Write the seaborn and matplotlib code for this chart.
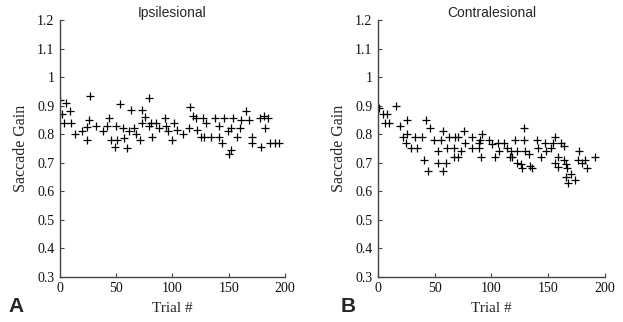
import numpy as np
import pandas as pd
import matplotlib
matplotlib.use("Agg")
import matplotlib.pyplot as plt
import seaborn as sns

# ipsilesional (panel A)
trial_ipsi = [0, 5, 2, 9, 4, 10, 13, 20, 24, 24, 27, 26, 32, 38, 42, 44, 45, 49, 50, 51,
              53, 56, 57, 60, 61, 63, 66, 68, 71, 73, 73, 76, 79, 79, 81, 82, 85, 88, 93, 94,
              96, 100, 101, 104, 109, 116, 115, 118, 122, 121, 125, 128, 127, 130, 134, 138,
              141, 141, 144, 146, 149, 150, 152, 152, 154, 157, 160, 161, 165, 168, 171, 171,
              179, 178, 181, 185, 182, 187, 191, 195]
gain_ipsi = [0.92, 0.91, 0.87, 0.88, 0.84, 0.84, 0.80, 0.81, 0.78, 0.825, 0.935, 0.85, 0.83,
             0.81, 0.83, 0.855, 0.78, 0.755, 0.83, 0.78, 0.905, 0.82, 0.785, 0.75, 0.81, 0.885,
             0.82, 0.80, 0.78, 0.885, 0.84, 0.86, 0.925, 0.83, 0.84, 0.79, 0.84, 0.82, 0.855,
             0.83, 0.81, 0.78, 0.84, 0.815, 0.80, 0.895, 0.82, 0.865, 0.815, 0.855, 0.79, 0.79,
             0.855, 0.84, 0.79, 0.855, 0.79, 0.83, 0.77, 0.855, 0.81, 0.73, 0.745, 0.82, 0.855,
             0.79, 0.82, 0.85, 0.88, 0.85, 0.79, 0.77, 0.755, 0.855, 0.865, 0.855, 0.82, 0.77,
             0.77, 0.77]

# contralesional (panel B)
trial_contra = [1, 4, 8, 6, 10, 16, 19, 26, 26, 22, 25, 29, 34, 33, 39, 41, 42, 44, 46, 49,
                53, 53, 56, 57, 57, 60, 61, 63, 67, 68, 67, 71, 71, 73, 76, 77, 83, 83, 89, 89,
                91, 92, 90, 98, 101, 103, 106, 107, 111, 114, 116, 117, 118, 121, 123, 123, 126,
                127, 129, 129, 130, 133, 134, 136, 140, 141, 144, 147, 148, 153, 154, 156, 156,
                159, 159, 161, 164, 164, 166, 167, 166, 170, 174, 168, 177, 176, 180, 183, 184,
                191]
gain_contra = [0.89, 0.87, 0.87, 0.84, 0.84, 0.90, 0.83, 0.85, 0.80, 0.79, 0.77, 0.75, 0.75,
               0.79, 0.79, 0.71, 0.85, 0.67, 0.82, 0.78, 0.74, 0.70, 0.78, 0.81, 0.67, 0.70,
               0.75, 0.79, 0.75, 0.79, 0.72, 0.79, 0.72, 0.74, 0.81, 0.77, 0.79, 0.75, 0.77,
               0.75, 0.72, 0.80, 0.78, 0.78, 0.765, 0.72, 0.77, 0.74, 0.77, 0.75, 0.72, 0.74,
               0.72, 0.78, 0.74, 0.70, 0.695, 0.68, 0.82, 0.78, 0.74, 0.73, 0.69, 0.68, 0.78,
               0.75, 0.72, 0.77, 0.74, 0.75, 0.77, 0.79, 0.70, 0.72, 0.685, 0.77, 0.76, 0.71,
               0.695, 0.68, 0.65, 0.66, 0.64, 0.63, 0.74, 0.71, 0.70, 0.71, 0.68, 0.72]

titles = ["Ipsilesional", "Contralesional"]
panel_letters = ["A", "B"]
x_ticks = [0, 50, 100, 150, 200]
y_ticks = [0.3, 0.4, 0.5, 0.6, 0.7, 0.8, 0.9, 1.0, 1.1, 1.2]
y_ticklabels = ["0.3", "0.4", "0.5", "0.6", "0.7", "0.8", "0.9", "1", "1.1", "1.2"]

sns.set_style("ticks")
plt.rcParams["font.family"] = ["Liberation Serif", "DejaVu Serif"]

fig = plt.figure(figsize=(6.23, 3.22), dpi=100)
ax_a = fig.add_axes([0.0963, 0.140, 0.361, 0.798])
ax_b = fig.add_axes([0.6067, 0.140, 0.364, 0.798])

datos = [(trial_ipsi, gain_ipsi), (trial_contra, gain_contra)]
for ax, (tr, g), titulo in zip([ax_a, ax_b], datos, titles):
    df = pd.DataFrame({"trial": tr, "gain": g})
    sns.scatterplot(data=df, x="trial", y="gain", ax=ax, marker="+", color="black",
                    s=38, linewidth=0.9)
    ax.set_xlim(0, 200)
    ax.set_ylim(0.3, 1.2)
    ax.set_xticks(x_ticks)
    ax.set_yticks(y_ticks)
    ax.set_yticklabels(y_ticklabels)
    ax.tick_params(direction="in", length=3, width=0.8, labelsize=10, colors="#444444",
                   pad=4)
    ax.tick_params(labelcolor="#111111")
    for sp in ["left", "bottom"]:
        ax.spines[sp].set_color("#444444")
        ax.spines[sp].set_linewidth(1.0)
    sns.despine(ax=ax)
    ax.set_xlabel("Trial #", fontsize=11, labelpad=5)
    ax.set_ylabel("Saccade Gain", fontsize=11.5, labelpad=6)
    ax.set_title(titulo, fontsize=10, family=["Liberation Sans", "DejaVu Sans"], pad=2)

fig.text(0.013, 0.03, panel_letters[0], fontsize=15, fontweight="bold",
         family=["Liberation Sans", "DejaVu Sans"])
fig.text(0.546, 0.03, panel_letters[1], fontsize=15, fontweight="bold",
         family=["Liberation Sans", "DejaVu Sans"])

fig.savefig("out.png", dpi=100)
